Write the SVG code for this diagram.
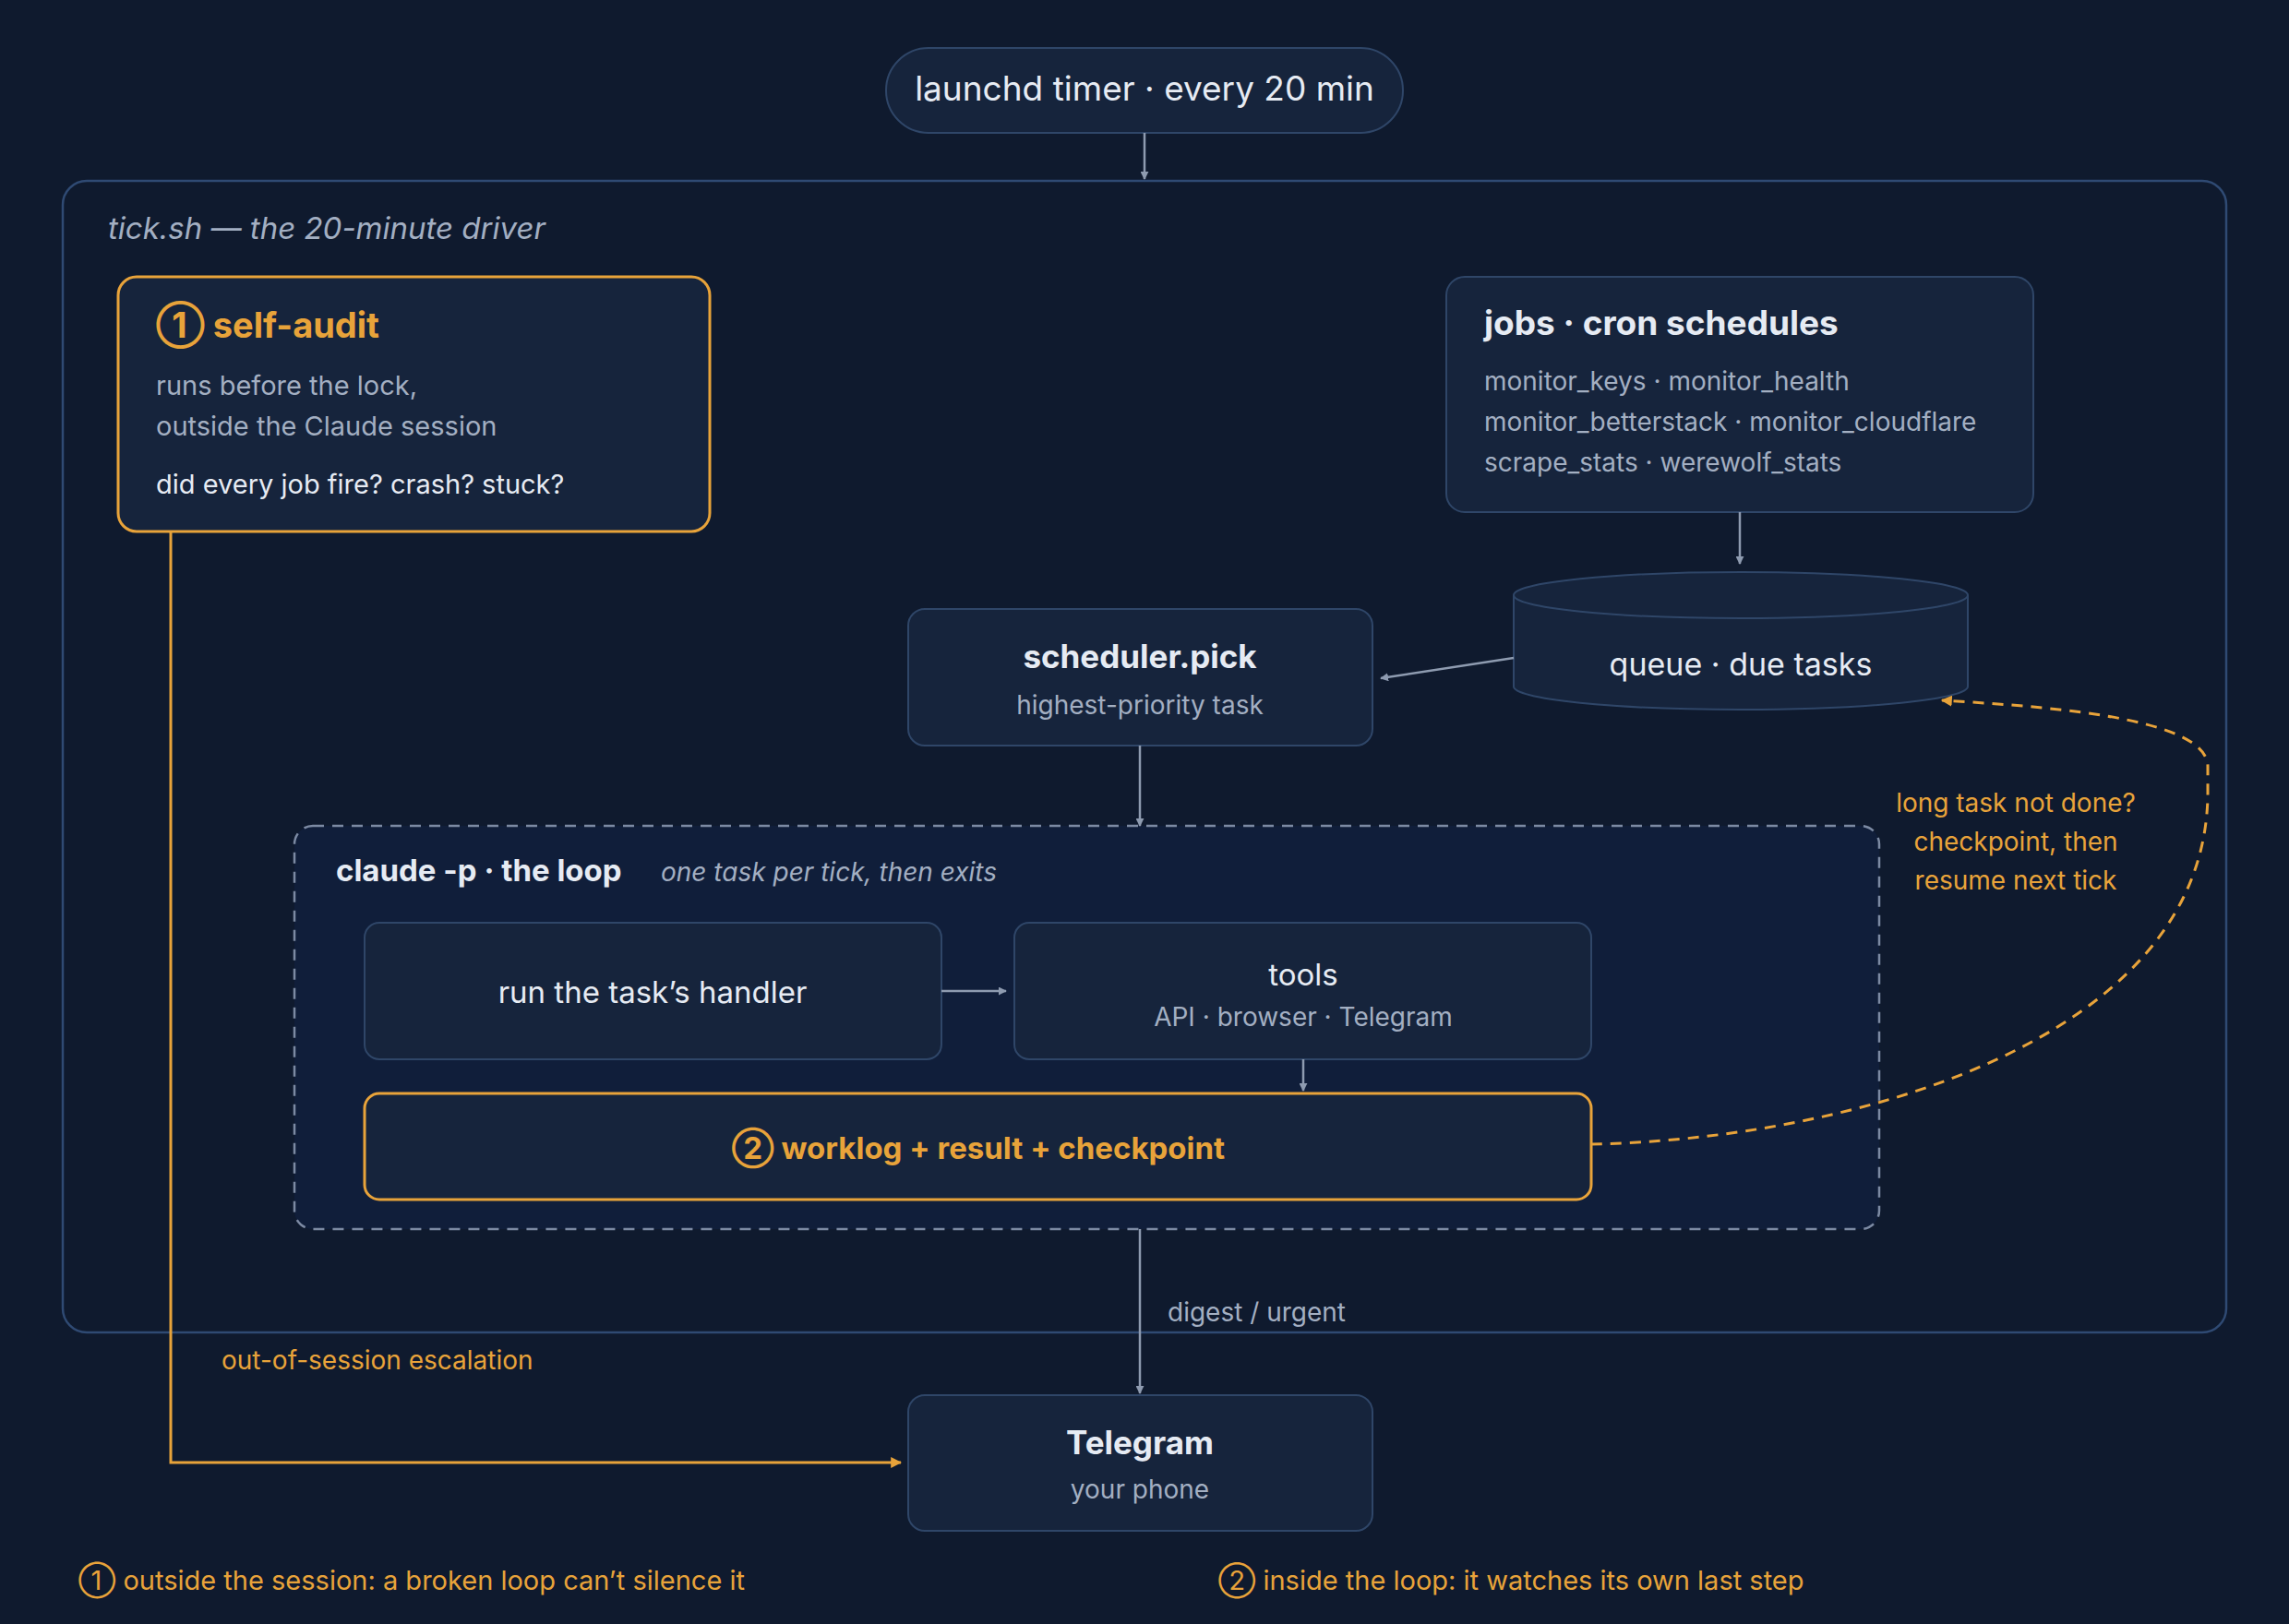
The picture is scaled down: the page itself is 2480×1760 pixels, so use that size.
<svg xmlns="http://www.w3.org/2000/svg" width="2480" height="1760" viewBox="0 0 2480 1760">
<style>
text{font-family:Inter,"Noto Sans","Liberation Sans",sans-serif}
.box{fill:#16243c;stroke:#2f4668;stroke-width:2}
.ob{fill:#16243c;stroke:#e8a33a;stroke-width:3}
.t{fill:#e6ebf3}
.s{fill:#a3afc2}
.o{fill:#e8a33a}
.ln{stroke:#8e9bb0;stroke-width:2.5;fill:none}
</style>
<defs>
<marker id="a" viewBox="0 0 10 10" refX="9" refY="5" markerWidth="9" markerHeight="9" markerUnits="userSpaceOnUse" orient="auto"><path d="M0,0L10,5L0,10z" fill="#8e9bb0"/></marker>
<marker id="ao" viewBox="0 0 10 10" refX="9" refY="5" markerWidth="12" markerHeight="12" markerUnits="userSpaceOnUse" orient="auto"><path d="M0,0L10,5L0,10z" fill="#e8a33a"/></marker>
</defs>
<rect width="2480" height="1760" fill="#0f1a2e"/>
<g id="tick">
<rect x="68" y="196" width="2344" height="1248" rx="26" fill="#0f1a2e" stroke="#2f4a73" stroke-width="2.5"/>
<text x="117" y="259" font-size="33" font-style="italic" class="s">tick.sh — the 20-minute driver</text>
</g>
<g id="launchd">
<rect x="960" y="52" width="560" height="92" rx="46" class="box"/>
<text x="1240" y="109" font-size="37" text-anchor="middle" class="t">launchd timer · every 20 min</text>
</g>
<g id="selfaudit">
<rect x="128" y="300" width="641" height="276" rx="20" class="ob"/>
<text x="169" y="366" font-size="38" font-weight="bold" class="o">① self-audit</text>
<text x="169" y="428" font-size="29" class="s">runs before the lock,</text>
<text x="169" y="472" font-size="29" class="s">outside the Claude session</text>
<text x="169" y="535" font-size="29" class="t">did every job fire? crash? stuck?</text>
</g>
<g id="jobs">
<rect x="1567" y="300" width="636" height="255" rx="20" class="box"/>
<text x="1608" y="363" font-size="37" font-weight="bold" class="t">jobs · cron schedules</text>
<text x="1608" y="423" font-size="28" class="s">monitor_keys · monitor_health</text>
<text x="1608" y="467" font-size="28" class="s">monitor_betterstack · monitor_cloudflare</text>
<text x="1608" y="511" font-size="28" class="s">scrape_stats · werewolf_stats</text>
</g>
<g id="queue">
<path d="M1640,645 L1640,744 A246,25 0 0 0 2132,744 L2132,645" class="box"/>
<ellipse cx="1886" cy="645" rx="246" ry="25" class="box"/>
<text x="1886" y="732" font-size="34" text-anchor="middle" class="t">queue · due tasks</text>
</g>
<g id="scheduler">
<rect x="984" y="660" width="503" height="148" rx="18" class="box"/>
<text x="1235" y="724" font-size="35" font-weight="bold" text-anchor="middle" class="t">scheduler.pick</text>
<text x="1235" y="774" font-size="28" text-anchor="middle" class="s">highest-priority task</text>
</g>
<g id="loop">
<rect x="319" y="895" width="1717" height="437" rx="20" fill="#101e3a" stroke="#7c8aa3" stroke-width="2.5" stroke-dasharray="12 9"/>
<text x="364" y="955" font-size="33" font-weight="bold" class="t">claude -p · the loop</text>
<text x="716" y="955" font-size="28" font-style="italic" class="s">one task per tick, then exits</text>
</g>
<g id="handler">
<rect x="395" y="1000" width="625" height="148" rx="16" class="box"/>
<text x="707" y="1087" font-size="33" text-anchor="middle" class="t">run the task’s handler</text>
</g>
<g id="tools">
<rect x="1099" y="1000" width="625" height="148" rx="16" class="box"/>
<text x="1412" y="1068" font-size="33" text-anchor="middle" class="t">tools</text>
<text x="1412" y="1112" font-size="28" text-anchor="middle" class="s">API · browser · Telegram</text>
</g>
<g id="worklog">
<rect x="395" y="1185" width="1329" height="115" rx="16" class="ob"/>
<text x="1060" y="1256" font-size="33" font-weight="bold" text-anchor="middle" class="o">② worklog + result + checkpoint</text>
</g>
<g id="telegram">
<rect x="984" y="1512" width="503" height="147" rx="18" class="box"/>
<text x="1235" y="1576" font-size="35" font-weight="bold" text-anchor="middle" class="t">Telegram</text>
<text x="1235" y="1624" font-size="28" text-anchor="middle" class="s">your phone</text>
</g>
<g id="connectors">
<line x1="1240" y1="144" x2="1240" y2="194" class="ln" marker-end="url(#a)"/>
<line x1="1885" y1="555" x2="1885" y2="611" class="ln" marker-end="url(#a)"/>
<line x1="1640" y1="713" x2="1496" y2="735" class="ln" marker-end="url(#a)"/>
<line x1="1235" y1="808" x2="1235" y2="895" class="ln" marker-end="url(#a)"/>
<line x1="1020" y1="1074" x2="1090" y2="1074" class="ln" marker-end="url(#a)"/>
<line x1="1412" y1="1148" x2="1412" y2="1182" class="ln" marker-end="url(#a)"/>
<line x1="1235" y1="1332" x2="1235" y2="1510" class="ln" marker-end="url(#a)"/>
<text x="1265" y="1432" font-size="28" class="s">digest / urgent</text>
<path d="M185,576 L185,1585 L976,1585" fill="none" stroke="#e8a33a" stroke-width="3" marker-end="url(#ao)"/>
<text x="240" y="1484" font-size="28" class="o">out-of-session escalation</text>
<path d="M1724,1240 C2000,1235 2390,1130 2392,860 L2392,830 C2390,775 2200,765 2104,759" fill="none" stroke="#e8a33a" stroke-width="3" stroke-dasharray="12 9" marker-end="url(#ao)"/>
<text x="2184" y="880" font-size="28" text-anchor="middle" class="o">long task not done?</text>
<text x="2184" y="922" font-size="28" text-anchor="middle" class="o">checkpoint, then</text>
<text x="2184" y="964" font-size="28" text-anchor="middle" class="o">resume next tick</text>
</g>
<g id="notes">
<text x="85" y="1723" font-size="29" class="o">① outside the session: a broken loop can’t silence it</text>
<text x="1320" y="1723" font-size="29" class="o">② inside the loop: it watches its own last step</text>
</g>
</svg>
